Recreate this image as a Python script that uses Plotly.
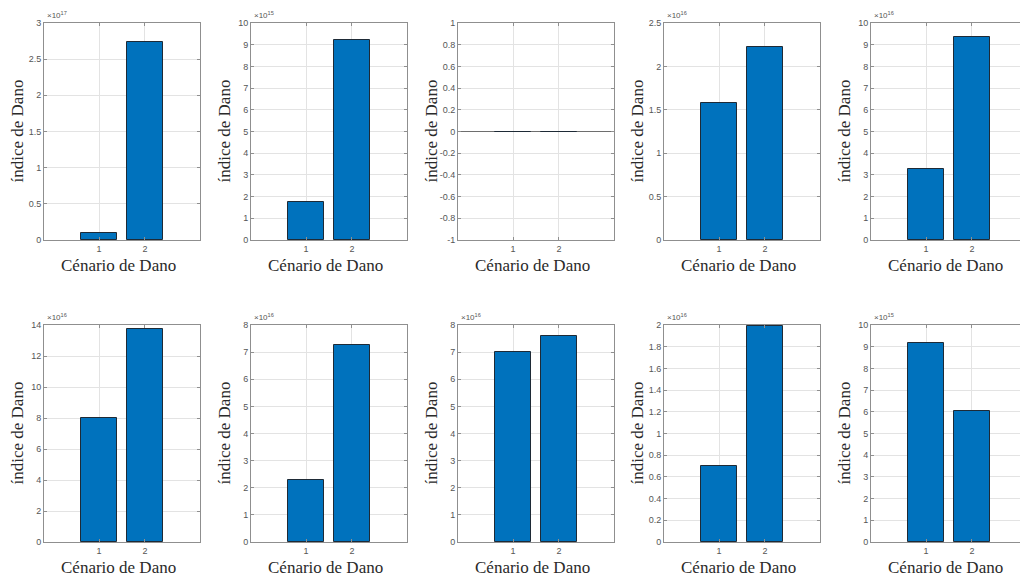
import plotly.graph_objects as go

# Damage scenarios on the x axis
scenarios = [1, 2]
scenario_labels = ["1", "2"]

# Damage index for each panel (scenario 1, scenario 2)
dano_p1 = [1.0e16, 2.74e17]
dano_p2 = [1.75e15, 9.22e15]
dano_p3 = [0.0, 0.0]
dano_p4 = [1.58e16, 2.22e16]
dano_p5 = [3.27e16, 9.35e16]
dano_p6 = [7.98e16, 13.75e16]
dano_p7 = [2.30e16, 7.28e16]
dano_p8 = [7.02e16, 7.58e16]
dano_p9 = [0.70e16, 1.99e16]
dano_p10 = [9.15e15, 6.05e15]

panels = [dano_p1, dano_p2, dano_p3, dano_p4, dano_p5,
          dano_p6, dano_p7, dano_p8, dano_p9, dano_p10]

# Axis exponent (x10^n) shown above each panel, None when not scaled
exponents = [17, 15, None, 16, 16, 16, 16, 16, 16, 15]
# y limits in scaled units and tick step
y_limits = [(0, 3), (0, 10), (-1, 1), (0, 2.5), (0, 10),
            (0, 14), (0, 8), (0, 8), (0, 2), (0, 10)]
y_steps = [0.5, 1, 0.2, 0.5, 1, 2, 1, 1, 0.2, 1]

W, H = 1020, 576
col_left = [44, 251, 458, 664, 871]
col_width = 156
row_top = [23, 325]
row_height = 217
x_lo = -0.2
px_per_unit = col_width / 3.4

BAR_COLOR = "#0072BD"
BOX = "#8f8f8f"
GRID = "#e3e3e3"
TICK_FONT = dict(family="Liberation Sans, Arial", size=9, color="#555555")
TITLE_FONT = dict(family="Liberation Serif, Times New Roman", size=17, color="#2a2a2a")

fig = go.Figure()
annotations = []

for i, vals in enumerate(panels):
    r, c = divmod(i, 5)
    n = i + 1
    xa = "x" if n == 1 else f"x{n}"
    ya = "y" if n == 1 else f"y{n}"
    exp = exponents[i]
    scale = 10 ** exp if exp is not None else 1
    yv = [v / scale for v in vals]

    fig.add_trace(go.Bar(
        x=scenarios, y=yv, width=0.8,
        marker=dict(color=BAR_COLOR, line=dict(color="#1e2a36", width=1)),
        xaxis=xa, yaxis=ya, showlegend=False,
    ))

    left = col_left[c]
    right = min(left + col_width, W)
    x_hi = x_lo + (right - left) / px_per_unit
    top = row_top[r]
    bottom = top + row_height

    lo, hi = y_limits[i]
    step = y_steps[i]
    nt = int(round((hi - lo) / step))
    tv = [round(lo + k * step, 6) for k in range(nt + 1)]
    tt = [f"{v:g}" for v in tv]

    clipped = (left + col_width) > W
    fig.layout[("xaxis" if n == 1 else f"xaxis{n}")] = dict(
        domain=[left / W, right / W], range=[x_lo, x_hi],
        tickvals=scenarios, ticktext=scenario_labels,
        showgrid=True, gridcolor=GRID, zeroline=False,
        showline=True, linecolor=BOX, linewidth=1, mirror="ticks",
        ticks="inside", ticklen=3, tickcolor=BOX,
        tickfont=TICK_FONT, anchor=ya, fixedrange=True, automargin=False,
    )
    fig.layout[("yaxis" if n == 1 else f"yaxis{n}")] = dict(
        domain=[1 - bottom / H, 1 - top / H], range=[lo, hi],
        tickvals=tv, ticktext=tt,
        showgrid=True, gridcolor=GRID,
        zeroline=True, zerolinecolor="#6e6e6e", zerolinewidth=1.2,
        showline=True, linecolor=BOX, linewidth=1,
        mirror=False if clipped else "ticks",
        ticks="inside", ticklen=3, tickcolor=BOX,
        tickfont=TICK_FONT, anchor=xa, fixedrange=True, automargin=False,
    )

    # axis titles
    annotations.append(dict(
        text="índice de Dano", textangle=-90, font=TITLE_FONT,
        xref="paper", yref="paper", x=(left - 27) / W, y=1 - (top + bottom) / 2 / H,
        xanchor="center", yanchor="middle", showarrow=False,
    ))
    mid_px = left + (1.5 - x_lo) * px_per_unit - 4
    annotations.append(dict(
        text="Cénario de Dano", font=TITLE_FONT,
        xref="paper", yref="paper", x=mid_px / W, y=1 - (bottom + 25) / H,
        xanchor="center", yanchor="middle", showarrow=False,
    ))
    if exp is not None:
        annotations.append(dict(
            text=f"×10<sup>{exp}</sup>",
            font=dict(family="Liberation Sans, Arial", size=8, color="#555555"),
            xref="paper", yref="paper", x=(left + 1) / W, y=1 - (top - 1) / H,
            xanchor="left", yanchor="bottom", showarrow=False,
        ))

fig.update_layout(
    width=W, height=H,
    margin=dict(l=0, r=0, t=0, b=0, pad=0, autoexpand=False),
    paper_bgcolor="white", plot_bgcolor="white",
    annotations=annotations, bargap=0,
)

fig.write_html("out.html")
